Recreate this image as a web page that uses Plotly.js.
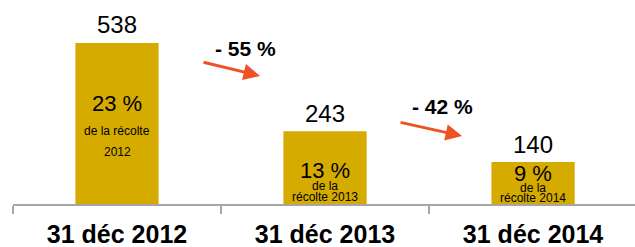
<!DOCTYPE html>
<html>
<head>
<meta charset="utf-8">
<script src="https://cdn.plot.ly/plotly-3.0.1.min.js"></script>
<style>html,body{margin:0;padding:0;background:#fff;}#chart{width:635px;height:247px;}</style>
</head>
<body>
<div id="chart"></div>
<script>
// ---- data ----
const categories = ["31 déc 2012", "31 déc 2013", "31 déc 2014"];
const stocks = [538, 243, 140];
const shareOfHarvest = ["23 %", "13 %", "9 %"];
const shareLine1 = ["de la récolte", "de la", "de la"];
const shareLine2 = ["2012", "récolte 2013", "récolte 2014"];
const changes = ["- 55 %", "- 42 %"];

// ---- style / placement ----
const barColor = "#D5AB00";
const arrowColor = "#EE5224";
const font = "Liberation Sans, Arial, sans-serif";
const pctShift = [-61, -39, -11];
const line1Shift = [-88, -55, -26];
const line2Shift = [-109, -66, -36];

const trace = {
  type: "bar",
  x: categories,
  y: stocks,
  marker: {color: barColor},
  width: 0.4,
  hoverinfo: "none"
};

const annotations = [];
categories.forEach((c, i) => {
  annotations.push({x: c, y: stocks[i], xref: "x", yref: "y", text: String(stocks[i]),
    showarrow: false, yanchor: "middle", yshift: 18, font: {family: font, size: 24, color: "#000"}});
  annotations.push({x: c, y: stocks[i], xref: "x", yref: "y", text: shareOfHarvest[i],
    showarrow: false, yanchor: "middle", yshift: pctShift[i], font: {family: font, size: 22, color: "#000"}});
  annotations.push({x: c, y: stocks[i], xref: "x", yref: "y", text: shareLine1[i],
    showarrow: false, yanchor: "middle", yshift: line1Shift[i], borderpad: 0, font: {family: font, size: 12, color: "#000"}});
  annotations.push({x: c, y: stocks[i], xref: "x", yref: "y", text: shareLine2[i],
    showarrow: false, yanchor: "middle", yshift: line2Shift[i], borderpad: 0, font: {family: font, size: 12, color: "#000"}});
});

// change arrows between consecutive bars
const arrowPos = [{x: 0.6875, y: 428, tx: 0.62, ty: 521}, {x: 1.6587, y: 227, tx: 1.5625, ty: 326}];
const arrowTail = [{ax: -58, ay: -14}, {ax: -63, ay: -14}];
changes.forEach((t, i) => {
  annotations.push({x: arrowPos[i].x, y: arrowPos[i].y, xref: "x", yref: "y", text: "",
    showarrow: true, ax: arrowTail[i].ax, ay: arrowTail[i].ay, axref: "pixel", ayref: "pixel",
    arrowhead: 2, arrowsize: 1.1, arrowwidth: 3, arrowcolor: arrowColor, standoff: 0});
  annotations.push({x: arrowPos[i].tx, y: arrowPos[i].ty, xref: "x", yref: "y", text: "<b>" + t + "</b>",
    showarrow: false, font: {family: font, size: 21, color: "#000"}});
});

const layout = {
  width: 635, height: 247,
  margin: {l: 13, r: 0, t: 0, b: 43},
  paper_bgcolor: "#fff", plot_bgcolor: "#fff",
  showlegend: false,
  xaxis: {
    type: "category", range: [-0.5, 2.49],
    showline: true, linecolor: "#A6A6A6", linewidth: 1.5,
    ticks: "outside", tickson: "boundaries", ticklen: 8, tickcolor: "#A6A6A6", tickwidth: 1.5,
    ticklabelstandoff: 7,
    tickfont: {family: font, size: 25, color: "#000", weight: "bold"},
    showgrid: false, zeroline: false, fixedrange: true
  },
  yaxis: {range: [0, 681.6], visible: false, showgrid: false, zeroline: false, fixedrange: true},
  annotations: annotations
};

Plotly.newPlot("chart", [trace], layout, {displayModeBar: false, staticPlot: true});
</script>
</body>
</html>
